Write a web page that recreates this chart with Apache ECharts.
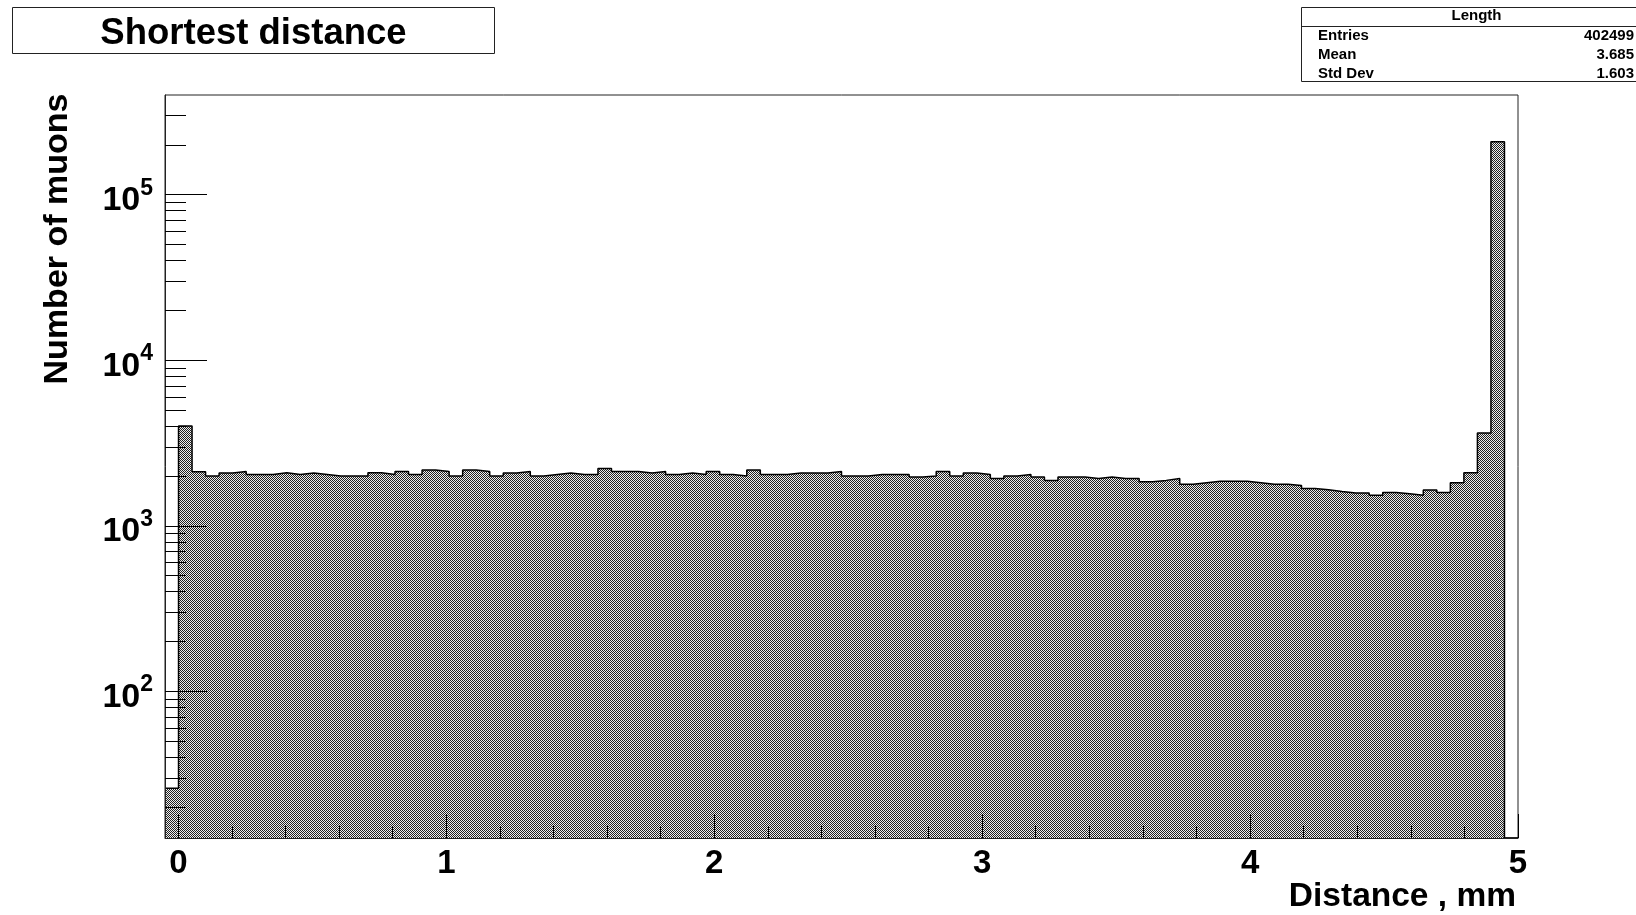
<!DOCTYPE html>
<html><head><meta charset="utf-8">
<script src="https://cdn.jsdelivr.net/npm/echarts@6/dist/echarts.min.js"></script>
<style>html,body{margin:0;padding:0;background:#fff}#c{width:1636px;height:915px}</style>
</head><body><div id="c"></div>
<script>
const histTitle = 'Shortest distance';
const xTitle = 'Distance , mm';
const yTitle = 'Number of muons';
const statsName = 'Length';
const statsLabels = ['Entries', 'Mean', 'Std Dev'];
const statsValues = ['402499', '3.685', '1.603'];

// histogram: 100 bins from xMin to xMax
const xMin = -0.05;
const xMax = 5.0;
const counts = [
  26, 4000, 2120, 2000, 2080, 2130, 2040, 2040, 2090, 2040,
  2080, 2040, 2000, 2000, 2000, 2090, 2040, 2130, 2040, 2170,
  2130, 2000, 2170, 2130, 2000, 2080, 2130, 2000, 2040, 2080,
  2040, 2040, 2220, 2130, 2130, 2080, 2130, 2040, 2080, 2040,
  2130, 2040, 2000, 2170, 2040, 2040, 2080, 2080, 2080, 2130,
  2000, 2000, 2040, 2040, 2040, 1970, 2000, 2130, 2000, 2080,
  2040, 1930, 2000, 2040, 1970, 1880, 1970, 1970, 1930, 1970,
  1930, 1930, 1845, 1880, 1930, 1780, 1820, 1860, 1860, 1860,
  1820, 1780, 1780, 1750, 1680, 1650, 1610, 1575, 1575, 1530,
  1590, 1560, 1530, 1645, 1590, 1820, 2090, 3640, 208500, 0
];

const xMajorTicks = [0, 1, 2, 3, 4, 5];
const xMinorTicks = [0.2, 0.4, 0.6, 0.8, 1.2, 1.4, 1.6, 1.8, 2.2, 2.4, 2.6, 2.8,
  3.2, 3.4, 3.6, 3.8, 4.2, 4.4, 4.6, 4.8];
const yMin = 13;
const yMax = 400000;
const yMajorTicks = [100, 1000, 10000, 100000];
const yMinorTicks = [20, 30, 40, 50, 60, 70, 80, 90,
  200, 300, 400, 500, 600, 700, 800, 900,
  2000, 3000, 4000, 5000, 6000, 7000, 8000, 9000,
  20000, 30000, 40000, 50000, 60000, 70000, 80000, 90000,
  200000, 300000];

// fill pattern (fine dotted hatch)
const pc = document.createElement('canvas');
pc.width = 2; pc.height = 2;
const pctx = pc.getContext('2d');
pctx.fillStyle = '#eeeeee'; pctx.fillRect(0, 0, 2, 2);
pctx.fillStyle = '#222222'; pctx.fillRect(0, 0, 1, 1); pctx.fillRect(1, 1, 1, 1);

const binW = (xMax - xMin) / counts.length;
const stepData = counts.map((c, i) => [xMin + i * binW, c > 0 ? c : yMin]);
stepData.push([xMax, yMin]);

const FONT = '"Liberation Sans", Arial, Helvetica, sans-serif';
const chart = echarts.init(document.getElementById('c'));

function yLabel(v) {
  const n = Math.round(Math.log10(v));
  return '{b|10}{s|' + n + '}';
}

const option = {
  backgroundColor: '#fff',
  animation: false,
  grid: { left: 165, top: 95, right: 118, bottom: 77, show: true, borderColor: '#222', borderWidth: 1, backgroundColor: 'transparent' },
  xAxis: [
    {
      type: 'value', min: xMin, max: xMax, z: 10, position: 'bottom',
      axisLine: { show: true, onZero: false, lineStyle: { color: '#222', width: 1 } },
      splitLine: { show: false },
      axisTick: { show: true, inside: true, length: 24, customValues: xMajorTicks, lineStyle: { color: '#000', width: 1 } },
      axisLabel: { show: true, customValues: xMajorTicks, margin: 9, color: '#000',
        fontFamily: FONT, fontWeight: 'bold', fontSize: 33 }
    },
    {
      type: 'value', min: xMin, max: xMax, z: 10, position: 'bottom',
      axisLine: { show: false, onZero: false },
      splitLine: { show: false },
      axisTick: { show: true, inside: true, length: 12, customValues: xMinorTicks, lineStyle: { color: '#000', width: 1 } },
      axisLabel: { show: false }
    }
  ],
  yAxis: [
    {
      type: 'log', logBase: 10, min: yMin, max: yMax, z: 10, position: 'left',
      axisLine: { show: true, onZero: false, lineStyle: { color: '#222', width: 1 } },
      splitLine: { show: false },
      axisTick: { show: true, inside: true, length: 42, customValues: yMajorTicks, lineStyle: { color: '#000', width: 1 } },
      axisLabel: {
        show: true, customValues: yMajorTicks, margin: 12, formatter: yLabel, padding: [12, 0, 0, 0],
        rich: {
          b: { fontFamily: FONT, fontWeight: 'bold', fontSize: 34, color: '#000', verticalAlign: 'bottom', lineHeight: 34 },
          s: { fontFamily: FONT, fontWeight: 'bold', fontSize: 23, color: '#000', verticalAlign: 'bottom', lineHeight: 23, padding: [0, 0, 18, 0] }
        }
      }
    },
    {
      type: 'log', logBase: 10, min: yMin, max: yMax, z: 10, position: 'left',
      axisLine: { show: false, onZero: false },
      splitLine: { show: false },
      axisTick: { show: true, inside: true, length: 21, customValues: yMinorTicks, lineStyle: { color: '#000', width: 1 } },
      axisLabel: { show: false }
    }
  ],
  series: [{
    name: statsName,
    type: 'line',
    xAxisIndex: 0, yAxisIndex: 0,
    step: 'end',
    showSymbol: false,
    symbol: 'none',
    data: stepData,
    lineStyle: { color: '#000', width: 1.5 },
    areaStyle: { color: { image: pc, repeat: 'repeat' }, opacity: 1, origin: 'start' },
    z: 2
  }],
  graphic: [
    { type: 'rect', shape: { x: 12.5, y: 7.5, width: 482, height: 46 }, style: { fill: '#fff', stroke: '#222', lineWidth: 1 } },
    { type: 'text', x: 253.5, y: 33.5, style: { text: histTitle, align: 'center', verticalAlign: 'middle',
        font: 'bold 36.5px ' + FONT, fill: '#000' } },
    { type: 'rect', shape: { x: 1301.5, y: 7.5, width: 400, height: 74 }, style: { fill: '#fff', stroke: '#222', lineWidth: 1 } },
    { type: 'line', shape: { x1: 1301.5, y1: 26.5, x2: 1636, y2: 26.5 }, style: { stroke: '#222', lineWidth: 1 } },
    { type: 'text', x: 1476.5, y: 16, style: { text: statsName, align: 'center', verticalAlign: 'middle', font: 'bold 15px ' + FONT, fill: '#000' } },
    { type: 'text', x: 1318, y: 35.5, style: { text: statsLabels[0], align: 'left', verticalAlign: 'middle', font: 'bold 15px ' + FONT, fill: '#000' } },
    { type: 'text', x: 1318, y: 55, style: { text: statsLabels[1], align: 'left', verticalAlign: 'middle', font: 'bold 15px ' + FONT, fill: '#000' } },
    { type: 'text', x: 1318, y: 74, style: { text: statsLabels[2], align: 'left', verticalAlign: 'middle', font: 'bold 15px ' + FONT, fill: '#000' } },
    { type: 'text', x: 1634, y: 35.5, style: { text: statsValues[0], align: 'right', verticalAlign: 'middle', font: 'bold 15px ' + FONT, fill: '#000' } },
    { type: 'text', x: 1634, y: 55, style: { text: statsValues[1], align: 'right', verticalAlign: 'middle', font: 'bold 15px ' + FONT, fill: '#000' } },
    { type: 'text', x: 1634, y: 74, style: { text: statsValues[2], align: 'right', verticalAlign: 'middle', font: 'bold 15px ' + FONT, fill: '#000' } },
    { type: 'text', x: 1516, y: 897, style: { text: xTitle, align: 'right', verticalAlign: 'middle', font: 'bold 33.5px ' + FONT, fill: '#000' } },
    { type: 'text', x: 58, y: 239, rotation: Math.PI / 2, style: { text: yTitle, align: 'center', verticalAlign: 'middle', font: 'bold 34px ' + FONT, fill: '#000' } }
  ]
};
chart.setOption(option);
</script>
</body></html>
